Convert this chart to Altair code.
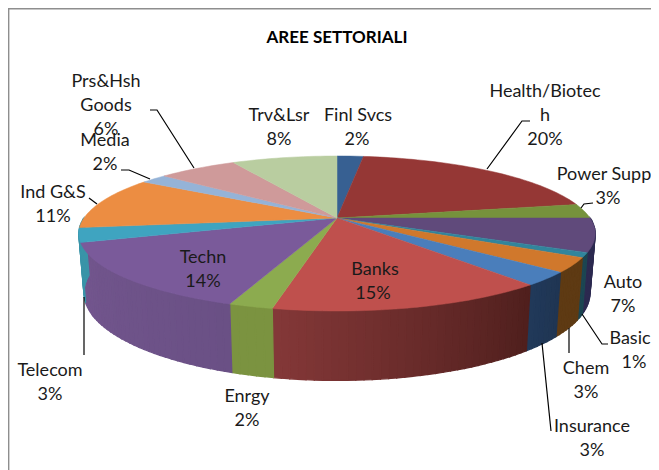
import math
import altair as alt
import pandas as pd

# ---- chart values ----
sectors = ["Finl Svcs", "Health/Biotec\nh", "Power Supp", "Auto", "Basic", "Chem", "Insurance",
           "Banks", "Enrgy", "Techn", "Telecom", "Ind G&S", "Media", "Prs&Hsh\nGoods", "Trv&Lsr"]
percent_labels = [2, 20, 3, 7, 1, 3, 3, 15, 2, 14, 3, 11, 2, 6, 8]
shares = [2.0, 20.0, 3.0, 7.0, 1.0, 3.0, 2.8, 14.5, 2.3, 14.4, 3.0, 11.0, 2.0, 6.0, 8.0]
top_colors = ["#376092", "#953735", "#76923c", "#604a7b", "#31859c", "#d0782c", "#4a7ebb", "#bf504d",
              "#8cab4f", "#7a5a9a", "#3fa4c0", "#ec8d42", "#95b3d7", "#cf9a9a", "#b9cda0"]
wall_colors = [None, None, None, ("#2c2a50", "#2c2a50"), ("#1c4652", "#1c4652"), ("#5e3a13", "#5e3a13"),
               ("#1f3552", "#21395a"), ("#4f1f1d", "#843838"), ("#7b9340", "#7b9340"),
               ("#6a5085", "#73568e"), ("#3a94a8", "#3a94a8"), ("#3a94a8", "#3a94a8"), None, None, None]

# ---- layout (image pixels): name centre x, first line y, percent centre x ----
CX, CY, A, B, K = 337.0, 218.0, 253.0, 74.4, 0.2
DEPTH, SHRINK = 57.0, 0.98
label_centers = {
    "Finl Svcs": (358, 114, 357), "Health/Biotec\nh": (545, 90, 545), "Power Supp": (604, 173, 608),
    "Auto": (623, 281, 623), "Basic": (630, 337, 634), "Chem": (586, 367, 586),
    "Insurance": (592, 425, 592), "Banks": (375, 268, 373), "Enrgy": (247, 395, 247),
    "Techn": (203, 256, 203), "Telecom": (50, 369, 50), "Ind G&S": (53, 191, 53),
    "Media": (105, 139, 105), "Prs&Hsh\nGoods": (106, 80, 106), "Trv&Lsr": (279, 114, 279),
}
LINE_H = 24
leaders = [
    [(150, 110), (157, 110), (194, 168)],
    [(121, 170), (129, 170), (150, 179)],
    [(89, 198), (97, 204)],
    [(530, 121), (522, 121), (487, 169)],
    [(593, 203), (584, 204), (581, 208)],
    [(608, 344), (602, 344), (582, 314)],
    [(569, 353), (569, 328)],
    [(551, 431), (542, 343)],
    [(84, 355), (84, 297)],
]
frame = [[(8.7, 470), (8.7, 8.7), (651, 8.7)]]


def project(deg, lower=False):
    u, v = math.sin(math.radians(deg)), math.cos(math.radians(deg))
    s = 1 / (1 + K * v)
    if lower:
        return CX + SHRINK * A * u * s, CY - SHRINK * B * v * s + DEPTH * s
    return CX + A * u * s, CY - B * v * s


def mix(c1, c2, t):
    a = [int(c1[i:i + 2], 16) for i in (1, 3, 5)]
    b = [int(c2[i:i + 2], 16) for i in (1, 3, 5)]
    return "#%02x%02x%02x" % tuple(round(p + (q - p) * t) for p, q in zip(a, b))


total = sum(shares)
spans, cum = [], 0.0
for s_ in shares:
    spans.append((cum / total * 360, (cum + s_) / total * 360))
    cum += s_

top_rows, wall_rows = [], []
for i, (a0, a1) in enumerate(spans):
    n = max(2, int((a1 - a0) / 1.5))
    pts = [(CX, CY)] + [project(a0 + (a1 - a0) * j / n) for j in range(n + 1)]
    for k, (x, y) in enumerate(pts):
        top_rows.append(dict(id=f"t{i:02d}", x=x, y=y, o=k, c=top_colors[i]))
    if wall_colors[i]:
        w0, w1 = max(a0, 90), min(a1, 270)
        if w1 <= w0:
            continue
        m = max(1, int((w1 - w0) / 1.5))
        for j in range(m):
            b0, b1 = w0 + (w1 - w0) * j / m, w0 + (w1 - w0) * (j + 1) / m
            col = mix(wall_colors[i][0], wall_colors[i][1], (j + .5) / m)
            quad = [project(b0), project(b1), project(b1, True), project(b0, True)]
            for k, (x, y) in enumerate(quad):
                wall_rows.append(dict(id=f"w{i:02d}{j:03d}", x=x, y=y, o=k, c=col))

text_rows = []
for name, pct in zip(sectors, percent_labels):
    cx, cy, px = label_centers[name]
    lines = name.split("\n")
    for j, line in enumerate(lines):
        text_rows.append(dict(x=cx, y=cy + j * LINE_H, t=line))
    text_rows.append(dict(x=px, y=cy + len(lines) * LINE_H, t=f"{pct}%"))

leader_rows = [dict(id=i, x=x, y=y, o=k) for i, pl in enumerate(leaders) for k, (x, y) in enumerate(pl)]
frame_rows = [dict(id=i, x=x, y=y, o=k) for i, pl in enumerate(frame) for k, (x, y) in enumerate(pl)]

xs = alt.Scale(domain=[8, 651], nice=False, zero=False)
ys = alt.Scale(domain=[470, 8], nice=False, zero=False)
X = alt.X("x:Q", scale=xs, axis=None)
Y = alt.Y("y:Q", scale=ys, axis=None)


def polys(rows, sw):
    return alt.Chart(pd.DataFrame(rows)).mark_line(strokeWidth=sw, interpolate="linear-closed").encode(
        x=X, y=Y, detail="id:N", order="o:Q",
        fill=alt.Fill("c:N", scale=None, legend=None),
        stroke=alt.Stroke("c:N", scale=None, legend=None),
    )


border = alt.Chart(pd.DataFrame(frame_rows)).mark_line(color="#8e8e8e", strokeWidth=1.4).encode(
    x=X, y=Y, detail="id:N", order="o:Q")
lead = alt.Chart(pd.DataFrame(leader_rows)).mark_line(color="#000000", strokeWidth=1.2).encode(
    x=X, y=Y, detail="id:N", order="o:Q")
labels = alt.Chart(pd.DataFrame(text_rows)).mark_text(font="Lato", fontSize=18, color="#1a1a1a", baseline="middle", dy=2).encode(
    x=X, y=Y, text="t:N")
title = alt.Chart(pd.DataFrame([dict(x=337, y=36, t="AREE SETTORIALI")])).mark_text(
    font="Lato", fontSize=17, fontWeight="bold", color="#000000", baseline="middle", dy=2).encode(x=X, y=Y, text="t:N")

chart = alt.layer(border, polys(wall_rows, 1.3), polys(top_rows, 0.5), lead, labels, title).properties(
    width=643, height=462, padding=0, background="white",
    autosize=alt.AutoSizeParams(type="none"),
).configure_view(stroke=None)

chart.save("out.html", embed_options={"renderer": "svg", "actions": False})
